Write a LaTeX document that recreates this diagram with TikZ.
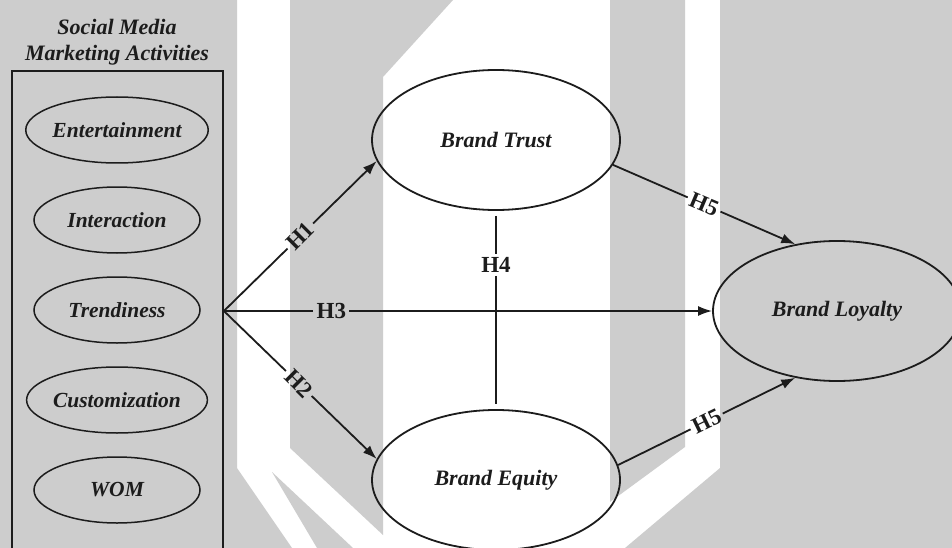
\documentclass[tikz,border=0pt]{standalone}
\usepackage{fontspec}
\setmainfont{Liberation Serif}
\usetikzlibrary{arrows.meta, positioning, calc, shapes.geometric}
\definecolor{bggray}{RGB}{205,205,205}
\definecolor{ink}{RGB}{28,28,28}

\begin{document}
\begin{tikzpicture}[x=1pt, y=-1pt,
  construct/.style={ellipse, draw=ink, line width=1.8pt, minimum width=248pt, minimum height=140pt, inner sep=0pt, text=ink, font=\fontsize{22}{26}\selectfont\bfseries\itshape},
  dimension/.style={ellipse, draw=ink, line width=1.5pt, minimum width=166pt, minimum height=66pt, inner sep=0pt, text=ink, font=\fontsize{21.5}{25}\selectfont\bfseries\itshape},
  hyp/.style={text=ink, font=\fontsize{23}{25}\selectfont\bfseries, inner sep=3pt},
  rel/.style={draw=ink, line width=1.8pt},
  effect/.style={rel, -{Latex[length=14pt,width=10pt]}}]
  \clip (0,0) rectangle (952,548);
  % watermark behind the model
  \fill[white] (0,0) rectangle (952,548);
  \fill[bggray] (0,0) -- (237,0) -- (237,468) -- (292,548) -- (0,548) -- cycle;
  \fill[bggray] (272,472) -- (317,548) -- (353,548) -- cycle;
  \fill[bggray] (290,0) -- (453,0) -- (383,77) -- (383,535) -- (290,448) -- cycle;
  \fill[bggray] (610,0) -- (685,0) -- (685,447) -- (610,502) -- cycle;
  \fill[bggray] (720,0) -- (952,0) -- (952,548) -- (625,548) -- (720,468) -- cycle;

  \node[align=center, inner sep=0pt, text=ink, font=\fontsize{22}{26}\selectfont\bfseries\itshape] (title) at (117,42) {Social Media\\Marketing Activities};
  \node[draw=ink, line width=1.8pt, minimum width=211pt, minimum height=480pt, inner sep=0pt] (smma) at (117.5,311) {};
  \foreach \name/\y/\txt in {ent/130/Entertainment, inter/220/Interaction, trend/310/Trendiness, custom/400/Customization, wom/490/WOM} {
    \node[dimension] (\name) at (117,\y) {\txt};
  }
  \coordinate (fan) at (smma.east);

  \node[construct] (trust) at (496,140) {Brand Trust};
  \node[construct] (equity) at (496,480) {Brand Equity};
  \node[construct] (loyalty) at (837,311) {Brand Loyalty};

  \node[hyp, rotate=45] (h1) at ($(fan)!0.5!(trust.190)$) {H1};
  \node[hyp, rotate=-45] (h2) at ($(fan)!0.49!(equity.170)$) {H2};
  \node[hyp] (h3) at ($(fan)!0.22!(loyalty.west)$) {H3};
  \node[hyp] (h4) at (496,265) {H4};
  \node[hyp, rotate=-23] (h5a) at ($(trust.348)!0.5!(loyalty.122)$) {H5};
  \node[hyp, rotate=26] (h5b) at ($(equity.7)!0.5!(loyalty.238)$) {H5};

  \draw[rel] (fan) -- (h1); \draw[effect] (h1) -- (trust.190);
  \draw[rel] (fan) -- (h2); \draw[effect] (h2) -- (equity.170);
  \draw[rel] (fan) -- (h3); \draw[effect] (h3) -- (loyalty);
  \draw[rel, shorten <=5pt] (trust) -- (h4); \draw[rel, shorten >=5pt] (h4) -- (equity);
  \draw[rel] (trust.348) -- (h5a); \draw[effect] (h5a) -- (loyalty.122);
  \draw[rel] (equity.7) -- (h5b); \draw[effect] (h5b) -- (loyalty.238);
\end{tikzpicture}
\end{document}
